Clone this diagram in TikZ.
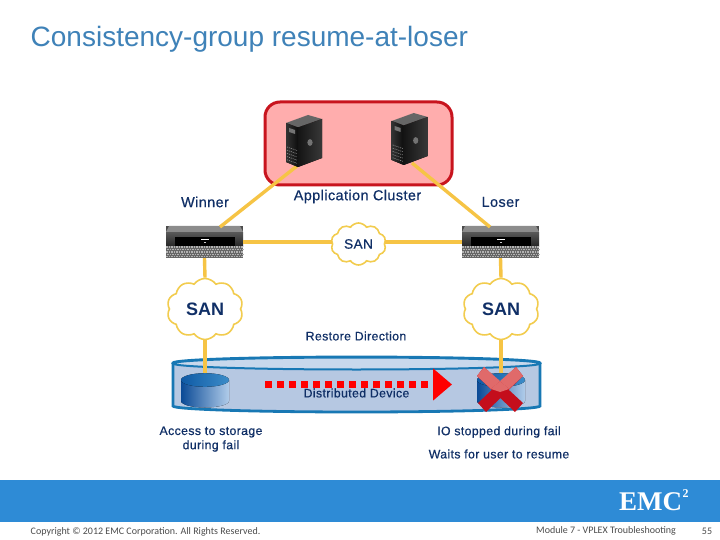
\documentclass[tikz,border=0pt]{standalone}
\usepackage{fontspec}
\usetikzlibrary{shapes.symbols,arrows.meta}
\setmainfont{Liberation Sans}
\newfontfamily\labfont[FakeBold=0.6,LetterSpace=3]{Liberation Sans}
\newfontfamily\titlefont{Liberation Sans}
\newfontfamily\footfont{Carlito}
\newfontfamily\logofont{Liberation Serif}
\definecolor{navy}{HTML}{102F66}
\definecolor{wire}{HTML}{F6C445}
\definecolor{cloudline}{HTML}{F2CC4E}
\definecolor{redline}{HTML}{C8141E}
\definecolor{pinkfill}{HTML}{FFADAD}
\definecolor{devline}{HTML}{1878B4}
\definecolor{devbody}{HTML}{B6C8E2}
\definecolor{devtop}{HTML}{C8D8EC}
\definecolor{band}{HTML}{2E8BD6}
\definecolor{titlec}{HTML}{3F82B8}
\definecolor{diskdark}{HTML}{0A4A96}
\definecolor{diskmid}{HTML}{2F76BC}
\definecolor{disklight}{HTML}{B0CCEA}
\definecolor{disktopa}{HTML}{0F5AA5}
\definecolor{disktopb}{HTML}{3C8CC8}
\definecolor{crossdark}{HTML}{C40E1C}
\definecolor{crosslight}{HTML}{E06A6A}
\newcommand{\fs}[1]{\fontsize{#1}{#1}\selectfont}
\tikzset{
  lab/.style={text=navy,font=\labfont\fs{14.4},inner sep=0,align=center},
  labs/.style={text=navy,font=\labfont\fs{12.3},inner sep=0,align=center},
  wirec/.style={draw=wire,line width=3.4pt},
  cloudn/.style={cloud,cloud puffs=10,cloud puff arc=110,aspect=1.25,draw=cloudline,line width=1.6pt,fill=white,inner sep=0,text=navy},
  foot/.style={font=\footfont\fs{10},text=black!70,inner sep=0},
  arrayn/.style={inner sep=0,minimum width=77pt,minimum height=32pt,fill=black!70},
  servern/.style={inner sep=0,minimum width=36pt,minimum height=52pt},
}
\newcommand{\towerbox}[3]{%
  \begin{scope}[shift={(#2,#3)}]
    \node[servern] (#1) at (304,141) {};
    \fill[black!60] (286,123) -- (308,115) -- (322,119) -- (298,127.5) -- cycle;
    \fill[left color=black!80,right color=black!95] (286,123) -- (298,127.5) -- (298,167) -- (286,162) -- cycle;
    \fill[left color=black!92,right color=black!78] (298,127.5) -- (322,119) -- (322,158) -- (298,167) -- cycle;
    \fill[black!55] (289,128) -- (295,130) -- (295,134) -- (289,132) -- cycle;
    \fill[black!55] (310,142.5) circle[x radius=2.6pt,y radius=3.4pt];
    \foreach \i in {0,...,4}{\draw[black!45,line width=.7pt,dash pattern=on 1pt off 1pt] (287,{147+\i*3.2}) -- (297,{150.5+\i*3.2});}
  \end{scope}}
\newcommand{\arraybox}[2]{%
  \node[arrayn] (#1) at (#2,242) {};
  \begin{scope}[shift={(#2-204.5,0)}]
    \fill[black!45] (169,226) -- (240,226) -- (243,232) -- (166,232) -- cycle;
    \fill[top color=black!65,bottom color=black!85] (166,232) rectangle (243,246);
    \fill[black] (175,237) rectangle (235,246);
    \fill[white] (201,238.5) rectangle (209,240);
    \fill[white!80!black] (204,241.5) rectangle (206,242.5);
    \fill[black!60] (166,246) rectangle (243,258);
    \foreach \r in {0,...,4}{\foreach \c in {0,...,30}{
      \fill[black!30] ({166.2+\c*2.5+mod(\r,2)*1.2},{246.4+\r*2.4}) rectangle +(1.5,1.4);}}
  \end{scope}}
\newcommand{\diskbox}[1]{%
  \begin{scope}[shift={(#1,0)}]
    \fill[left color=diskdark,middle color=diskmid,right color=disklight] (0,380) -- (0,401) arc[start angle=180,end angle=360,x radius=24pt,y radius=6.5pt] -- (48,380) -- cycle;
    \fill[left color=disktopa,right color=disktopb] (24,380) circle[x radius=24pt,y radius=6.8pt];
  \end{scope}}
\begin{document}
\begin{tikzpicture}[x=1pt,y=-1pt]
\useasboundingbox (0,0) rectangle (720,540);
\fill[white] (0,0) rectangle (720,540);
\node[anchor=west,inner sep=0,text=titlec,font=\titlefont\fs{28}] (title) at (30.5,39) {Consistency-group resume-at-loser};
\draw[redline,fill=pinkfill,line width=3pt,rounded corners=15pt] (265,102) rectangle (452,185);
\draw[devline,fill=devbody,line width=2.8pt] (173,363) -- (173,406) arc[start angle=180,end angle=360,x radius=183.5pt,y radius=6pt] -- (540,363) arc[start angle=0,end angle=180,x radius=183.5pt,y radius=6pt] -- cycle;
\draw[devline,fill=devtop,line width=2pt] (356.5,363.5) circle[x radius=183.5pt,y radius=6pt];
\arraybox{arrW}{204.5}
\arraybox{arrL}{500.5}
\node[cloudn,minimum width=55pt,minimum height=42pt,font=\labfont\fs{13.6}] (cM) at (358.5,244) {SAN};
\node[cloudn,minimum width=76pt,minimum height=61pt,font=\titlefont\bfseries\fs{18}] (cW) at (205,309) {SAN};
\node[cloudn,minimum width=76pt,minimum height=61pt,font=\titlefont\bfseries\fs{18}] (cL) at (501,309) {SAN};
\coordinate (footA) at (297,166);
\coordinate (footB) at (412,163);
\coordinate (topW) at (220,227);
\coordinate (topL) at (490,227);
\coordinate (diskW) at (205,374);
\coordinate (diskL) at (501,374);
\draw[wirec] (topW) -- (footA);
\draw[wirec] (topL) -- (footB);
\draw[wirec] (arrW.east) -- (cM.west |- arrW.east);
\draw[wirec] (cM.east |- arrL.west) -- (arrL.west);
\draw[wirec] (arrW.south) -- (cW.north);
\draw[wirec] (arrL.south) -- (cL.north);
\draw[wirec] (cW.south) -- (diskW);
\draw[wirec] (cL.south) -- (diskL);
\towerbox{sA}{0}{0}
\towerbox{sB}{105.7}{-2}
\diskbox{181}
\diskbox{477}
\coordinate (arrowS) at (265,384.5);
\coordinate (arrowE) at (452,384.5);
\draw[red,line width=7pt,dash pattern=on 7pt off 5pt,-{Triangle[length=19pt,width=31pt,fill=red]}] (arrowS) -- (arrowE);
% red cross
\fill[crossdark] (484,367) -- (477,376) -- (515,412) -- (523,403) -- cycle;
\fill[crossdark] (516,367) -- (523,376) -- (486,412) -- (478,403) -- cycle;
\fill[crosslight] (484,367) -- (477,376) -- (491,389) -- (500,381) -- cycle;
\fill[crosslight] (516,367) -- (523,376) -- (509,389) -- (500,381) -- cycle;
\fill[crosslight] (491,389) -- (500,381) -- (509,389) -- (500,392) -- cycle;
\node[lab] (lW) at (205,202) {Winner};
\node[lab] (lApp) at (357.5,196.5) {Application Cluster};
\node[lab] (lL) at (500.5,202) {Loser};
\node[labs] (lRes) at (356,336) {Restore Direction};
\node[labs] (lDev) at (356.5,393) {Distributed Device};
\node[labs] (lAcc1) at (211,432) {Access to storage};
\node[labs] (lAcc2) at (211,446) {during fail};
\node[labs] (lIO) at (499,432) {IO stopped during fail};
\node[labs] (lWait) at (499,454) {Waits for user to resume};
\fill[band] (0,480) rectangle (720,522);
\node[anchor=west,inner sep=0,text=white,font=\logofont\bfseries\fs{27}] (logo) at (619,502) {EMC};
\node[anchor=west,inner sep=0,text=white,font=\logofont\bfseries\fs{12}] (logo2) at (682.5,494) {2};
\node[foot,anchor=west] (copy) at (30.5,531.5) {Copyright © 2012 EMC Corporation. All Rights Reserved.};
\node[foot,anchor=west] (mod) at (536,531) {Module 7 - VPLEX Troubleshooting};
\node[foot] (pg) at (707,531) {55};
\end{tikzpicture}
\end{document}
